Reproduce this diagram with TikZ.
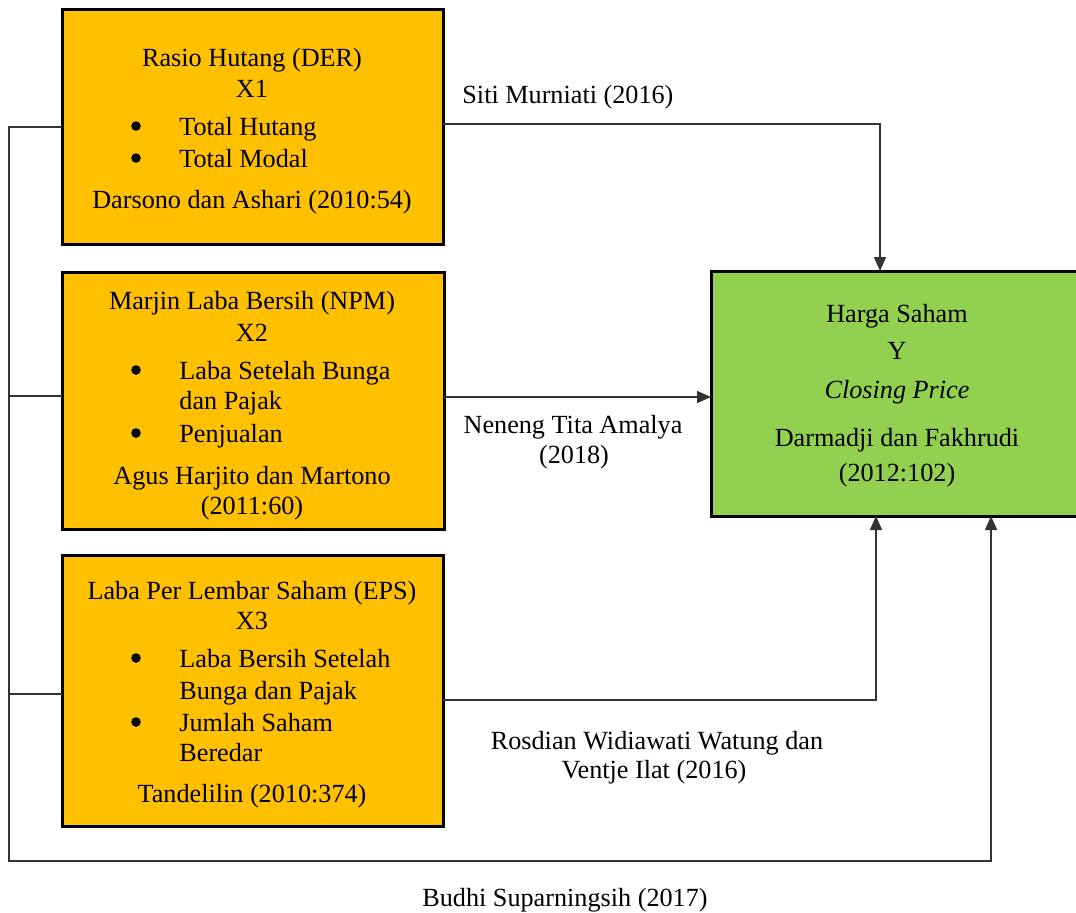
\documentclass[tikz,border=0pt]{standalone}
\usepackage{fontspec}
\setmainfont{Liberation Serif}
\usetikzlibrary{arrows.meta}
\definecolor{orangebox}{HTML}{FFC000}
\definecolor{greenbox}{HTML}{92D050}
\begin{document}
\begin{tikzpicture}[x=0.5pt,y=-0.5pt,
  box/.style={draw=black,line width=1.5pt,inner sep=0pt,outer sep=0pt,anchor=north west},
  txt/.style={anchor=base,inner sep=0pt,font=\fontsize{13.1}{15.7}\selectfont},
  ltxt/.style={txt,anchor=base west},
  bul/.style={circle,fill=black,inner sep=0pt,minimum size=4.8pt},
  conn/.style={draw=black!80,line width=0.75pt},
  arr/.style={conn,-{Triangle[length=7pt,width=6pt]}}]
\useasboundingbox (0,0) rectangle (1076,912);
% boxes
\node[box,fill=orangebox,minimum width=190.5pt,minimum height=117.5pt] (x1) at (62,9) {};
\node[box,fill=orangebox,minimum width=191pt,minimum height=128.5pt] (x2) at (62,272) {};
\node[box,fill=orangebox,minimum width=190.5pt,minimum height=135.5pt] (x3) at (62,555) {};
\node[box,fill=greenbox,minimum width=190pt,minimum height=122.5pt] (y) at (711,271) {};
% X1 text
\node[txt] (a1) at (252,66) {Rasio Hutang (DER)};
\node[txt] (a2) at (252,97) {X1};
\node[bul] (a3b) at (136,126) {};
\node[ltxt] (a3) at (179,135) {Total Hutang};
\node[bul] (a4b) at (136,158) {};
\node[ltxt] (a4) at (179,167) {Total Modal};
\node[txt] (a5) at (252,208) {Darsono dan Ashari (2010:54)};
% X2 text
\node[txt] (b1) at (252,309) {Marjin Laba Bersih (NPM)};
\node[txt] (b2) at (252,341) {X2};
\node[bul] (b3b) at (136,370) {};
\node[ltxt] (b3) at (179,379) {Laba Setelah Bunga};
\node[ltxt] (b4) at (179,409) {dan Pajak};
\node[bul] (b5b) at (136,433) {};
\node[ltxt] (b5) at (179,442) {Penjualan};
\node[txt] (b6) at (252,484) {Agus Harjito dan Martono};
\node[txt] (b7) at (252,514) {(2011:60)};
% X3 text
\node[txt] (c1t) at (252,599) {Laba Per Lembar Saham (EPS)};
\node[txt] (c2t) at (252,629) {X3};
\node[bul] (c3b) at (136,658) {};
\node[ltxt] (c3t) at (179,667) {Laba Bersih Setelah};
\node[ltxt] (c4t) at (179,699) {Bunga dan Pajak};
\node[bul] (c5b) at (136,722) {};
\node[ltxt] (c5t) at (179,731) {Jumlah Saham};
\node[ltxt] (c6t) at (179,761) {Beredar};
\node[txt] (c7t) at (252,802) {Tandelilin (2010:374)};
% Y text
\node[txt] (y1) at (897,322) {Harga Saham};
\node[txt] (y2) at (897,359) {Y};
\node[txt] (y3) at (897,398) {\itshape Closing Price};
\node[txt] (y4) at (897,446) {Darmadji dan Fakhrudi};
\node[txt] (y5) at (897,481) {(2012:102)};
% connector labels
\node[ltxt] (l1) at (462,103) {Siti Murniati (2016)};
\node[txt] (l2a) at (573,433) {Neneng Tita Amalya};
\node[txt] (l2b) at (574,463) {(2018)};
\node[txt] (l3a) at (657,749) {Rosdian Widiawati Watung dan};
\node[txt] (l3b) at (654,778) {Ventje Ilat (2016)};
\node[txt] (l4) at (565,906) {Budhi Suparningsih (2017)};
% coordinates
\coordinate (k1) at (880,124);
\coordinate (k2) at (0,397);
\coordinate (k3) at (876,700);
\coordinate (lt) at (9,127);
\coordinate (lb) at (9,861);
\coordinate (k4) at (991,861);
\coordinate (s2) at (9,396);
\coordinate (s3) at (9,694);
% connectors
\draw[arr] (x1.east |- k1) -| (k1 |- y.north);
\draw[arr] (x2.east |- k2) -- (y.west |- k2);
\draw[arr] (x3.east |- k3) -| (k3 |- y.south);
\draw[arr] (x1.west |- lt) -- (lt) -- (lb) -- (k4) -- (k4 |- y.south);
\draw[conn] (x2.west |- s2) -- (s2);
\draw[conn] (x3.west |- s3) -- (s3);
\end{tikzpicture}
\end{document}
